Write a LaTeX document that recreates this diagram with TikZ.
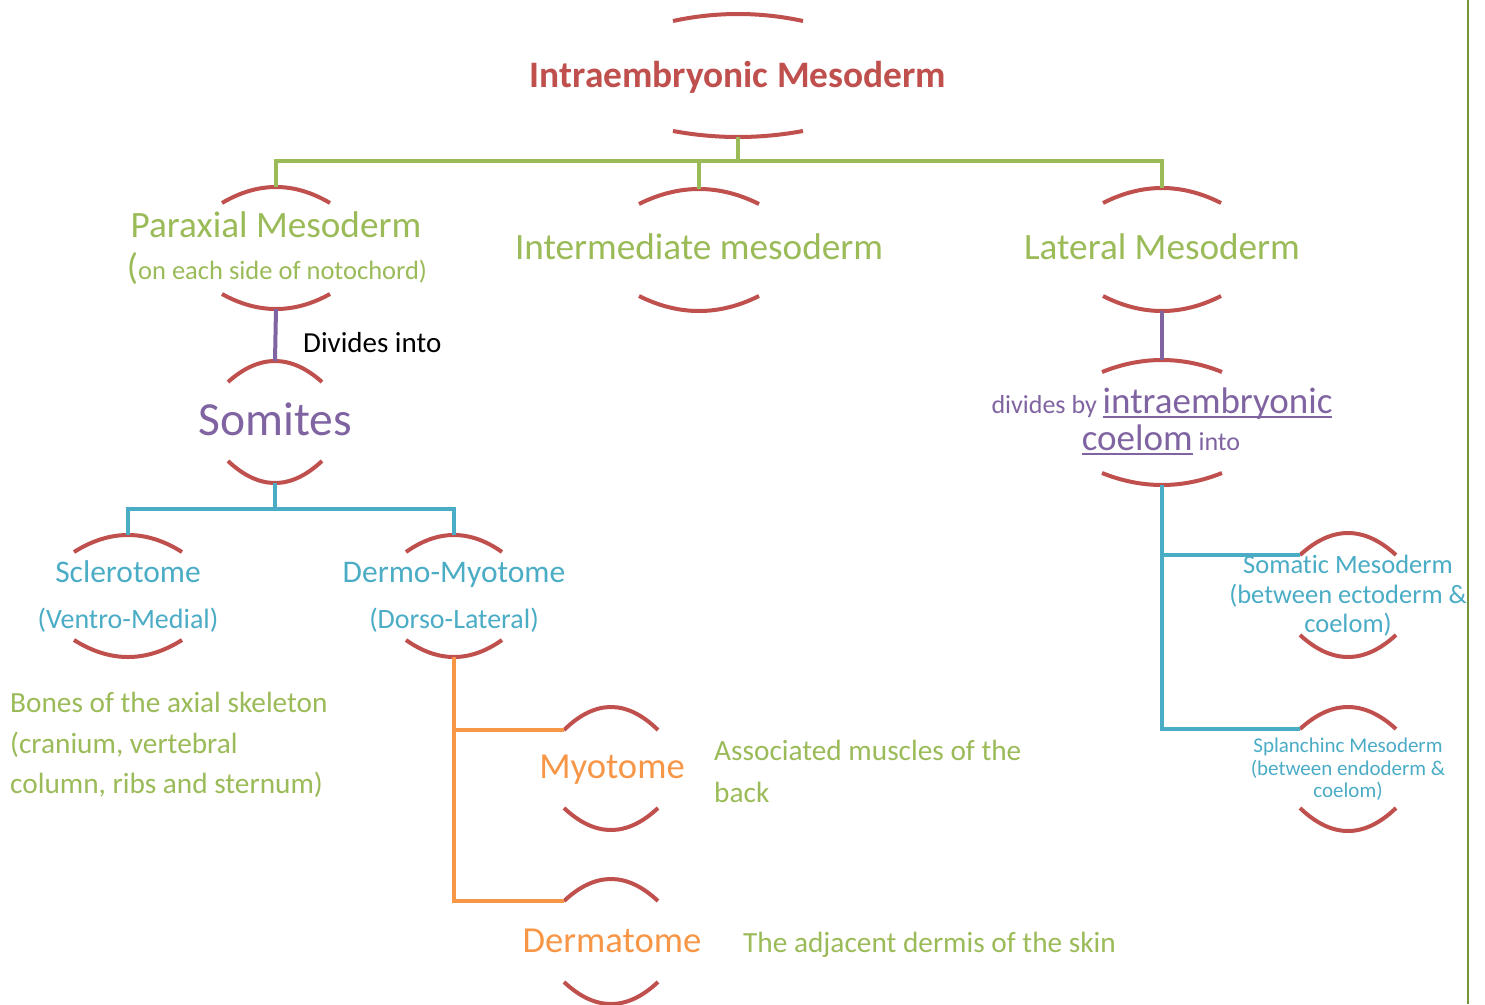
\documentclass[tikz,border=0pt]{standalone}
\usepackage{fontspec}
\setmainfont{Carlito}[Ligatures={NoCommon}]
\definecolor{arcred}{HTML}{C0504D}
\definecolor{lgreen}{HTML}{9BBB59}
\definecolor{lpurple}{HTML}{8064A2}
\definecolor{lblue}{HTML}{4BACC6}
\definecolor{lorange}{HTML}{F79646}
\definecolor{olive}{HTML}{77933C}
\newcommand\fsz[1]{\fontsize{#1}{#1}\selectfont}
\newcommand\myul[1]{\sbox0{#1}\rlap{\rule[-5pt]{\wd0}{1.6pt}}\usebox0}
\newcommand\mybrk[7]{%
 \coordinate (#1T) at (#2,#5);
 \coordinate (#1B) at (#2,#7);
 \coordinate (#1L) at ({#2-#3},#4);
 \draw[arcl] ({#2-#3},#4) .. controls ({#2-#3/3},{#4+4/3*(#5-#4)}) and ({#2+#3/3},{#4+4/3*(#5-#4)}) .. ({#2+#3},#4);
 \draw[arcl] ({#2-#3},#6) .. controls ({#2-#3/3},{#6+4/3*(#7-#6)}) and ({#2+#3/3},{#6+4/3*(#7-#6)}) .. ({#2+#3},#6);
}
\begin{document}
\begin{tikzpicture}[x=1pt,y=-1pt,
  arcl/.style={draw=arcred,line width=4pt},
  conn/.style={line width=4pt,line join=miter},
  txt/.style={inner sep=0pt,anchor=base},
  ltxt/.style={inner sep=0pt,anchor=base west}]
\useasboundingbox (0,0) rectangle (1485,1004);
\fill[white] (0,0) rectangle (1485,1004);
% right margin line
\coordinate (mtop) at (1468,0);
\coordinate (mbot) at (1468,1004);
\draw[olive,line width=1.6pt] (mtop) -- (mbot);

% brackets
\mybrk{ttl}{738}{65}{21}{14}{131}{137}
\mybrk{par}{276}{54}{203}{187}{294}{309}
\mybrk{int}{699}{60}{204}{189}{296}{311}
\mybrk{lat}{1162}{59}{203}{188}{296}{311}
\mybrk{som}{275}{47}{382}{361}{461}{483}
\mybrk{scl}{128}{54}{552}{535}{640}{657}
\mybrk{der}{454}{48}{552}{535}{640}{657}
\mybrk{myo}{611}{47}{730}{707}{808}{830}
\mybrk{dmt}{611}{47}{901}{879}{982}{1004}
\mybrk{coe}{1162}{60}{372}{360}{473}{485}
\mybrk{sma}{1348}{48}{555}{533}{635}{657}
\mybrk{spl}{1348}{48}{729}{707}{808}{831}

% texts
\node[txt,text=arcred,font=\fsz{37.4}\bfseries] (title) at (738,87) {Intraembryonic Mesoderm};
\node[txt,text=lgreen,font=\fsz{37.2}] (parax) at (276,237) {Paraxial Mesoderm};
\node[txt,text=lgreen,font=\fsz{26.5}] (parax2) at (277,279) {{\fsz{37}(}on each side of notochord)};
\node[txt,text=lgreen,font=\fsz{37.2}] (inter) at (699,259) {Intermediate mesoderm};
\node[txt,text=lgreen,font=\fsz{37.2}] (later) at (1162,259) {Lateral Mesoderm};
\node[ltxt,text=black,font=\fsz{29}] (divi) at (303,352) {Divides into};
\node[txt,text=lpurple,font=\fsz{47.5}] (somi) at (275,435) {Somites};
\node[txt,text=lpurple,font=\fsz{26}] (coel1) at (1162,413) {divides by {\fsz{37}\myul{intraembryonic}}};
\node[txt,text=lpurple,font=\fsz{26}] (coel2) at (1161,450) {{\fsz{37}\myul{coelom}} into};
\node[txt,text=lblue,font=\fsz{31.5}] (scl1) at (128,582) {Sclerotome};
\node[txt,text=lblue,font=\fsz{28}] (scl2) at (128,628) {(Ventro-Medial)};
\node[txt,text=lblue,font=\fsz{31.5}] (der1) at (454,582) {Dermo-Myotome};
\node[txt,text=lblue,font=\fsz{28}] (der2) at (454,628) {(Dorso-Lateral)};
\node[txt,text=lorange,font=\fsz{36.6}] (myo) at (612,778) {Myotome};
\node[txt,text=lorange,font=\fsz{36.6}] (dmt) at (612,952) {Dermatome};
\node[ltxt,text=lgreen,font=\fsz{29.3}] (bon1) at (10,712) {Bones of the axial skeleton};
\node[ltxt,text=lgreen,font=\fsz{29.3}] (bon2) at (10,753) {(cranium, vertebral};
\node[ltxt,text=lgreen,font=\fsz{29.3}] (bon3) at (10,793) {column, ribs and sternum)};
\node[ltxt,text=lgreen,font=\fsz{29.3}] (ass1) at (714,760) {Associated muscles of the};
\node[ltxt,text=lgreen,font=\fsz{29.3}] (ass2) at (714,802) {back};
\node[ltxt,text=lgreen,font=\fsz{29.3}] (adj) at (743,952) {The adjacent dermis of the skin};
\node[txt,text=lblue,font=\fsz{26.5}] (sma1) at (1348,573) {Somatic Mesoderm};
\node[txt,text=lblue,font=\fsz{26.5}] (sma2) at (1348,603) {(between ectoderm \&};
\node[txt,text=lblue,font=\fsz{26.5}] (sma3) at (1348,632) {coelom)};
\node[txt,text=lblue,font=\fsz{21}] (spl1) at (1348,752) {Splanchinc Mesoderm};
\node[txt,text=lblue,font=\fsz{21}] (spl2) at (1348,775) {(between endoderm \&};
\node[txt,text=lblue,font=\fsz{21}] (spl3) at (1348,797) {coelom)};

% connectors
\coordinate (gbus) at (738,161);
\draw[conn,lgreen] (ttlB) -- (gbus);
\draw[conn,lgreen] (gbus) -| (parT);
\draw[conn,lgreen] (gbus) -| (intT);
\draw[conn,lgreen] (gbus) -| (latT);
\draw[conn,lpurple] (parB) -- (somT);
\draw[conn,lpurple] (latB) -- (coeT);
\coordinate (bbus) at (275,509);
\draw[conn,lblue] (somB) -- (bbus);
\draw[conn,lblue] (bbus) -| (sclT);
\draw[conn,lblue] (bbus) -| (derT);
\draw[conn,lorange] (derB) |- (myoL);
\draw[conn,lorange] (derB) |- (dmtL);
\draw[conn,lblue] (coeB) |- (smaL);
\draw[conn,lblue] (coeB) |- (splL);
\end{tikzpicture}
\end{document}
